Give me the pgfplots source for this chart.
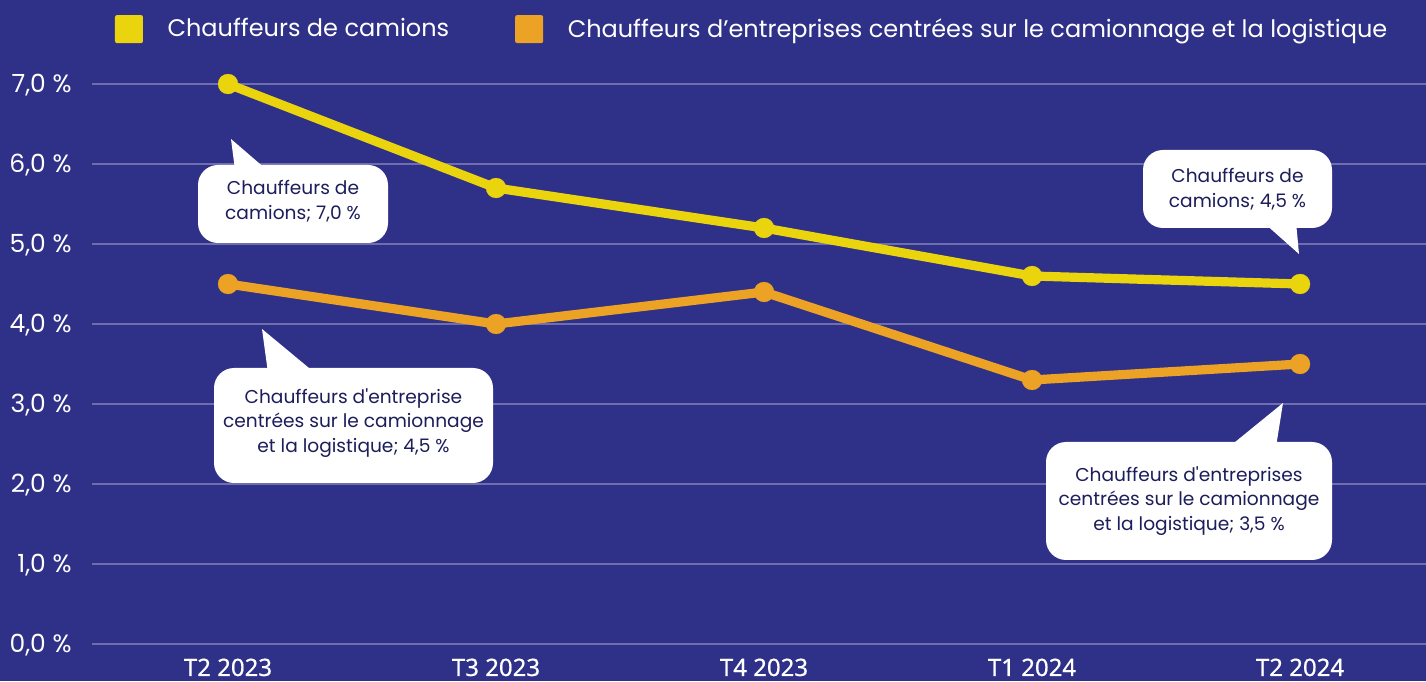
\documentclass[border=0pt]{standalone}
\usepackage{fontspec}
\setmainfont{Poppins}
\newfontfamily\callfont{Poppins}[Ligatures=TeXOff]
\newfontfamily\xfont{Noto Sans}[FakeBold=0.6]
\usepackage{pgfplots}
\pgfplotsset{compat=1.18}
\definecolor{bg}{RGB}{47,48,135}
\definecolor{ylw}{RGB}{234,212,14}
\definecolor{org}{RGB}{236,162,36}
\definecolor{navy}{RGB}{28,29,90}
\newcommand\zl{0,0 \%}
\begin{document}
\begin{tikzpicture}
\fill[bg] (-46pt,-18.5pt) rectangle (667pt,322pt);
\begin{axis}[
  scale only axis, width=667pt, height=280pt,
  xmin=-0.5075, xmax=4.47, ymin=0, ymax=7,
  clip=false,
  axis line style={draw=none},
  major tick length=0pt,
  xtick={0,...,4},
  xticklabels={T2 2023,T3 2023,T4 2023,T1 2024,T2 2024},
  xticklabel style={font=\fontsize{12}{13}\selectfont\xfont, text=white, anchor=base, inner sep=0pt, yshift=-16pt},
  ytick={1,...,7},
  yticklabels={{1,0 \%},{2,0 \%},{3,0 \%},{4,0 \%},{5,0 \%},{6,0 \%},{7,0 \%}},
  extra y ticks={0},
  extra y tick labels={\zl},
  extra y tick style={grid style={white, opacity=0.6, line width=1pt}},
  yticklabel style={font=\fontsize{12.5}{13}\selectfont, text=white, anchor=base east, inner sep=0pt, xshift=-10pt, yshift=-4.3pt},
  ymajorgrids,
  major grid style={white, opacity=0.3, line width=1pt},
  legend columns=2,
  legend style={at={(0.01724,1.098)}, anchor=west, draw=none, fill=none, inner sep=0pt, outer sep=0pt,
    text=white, font=\fontsize{12}{14}\selectfont,
    /tikz/every even column/.append style={column sep=33pt}, nodes={inner sep=0pt}},
  legend cell align=left,
  legend image code/.code={\fill[#1, draw=none, rounded corners=1pt] (0pt,-7pt) rectangle (14pt,7pt); \path (24pt,0pt);},
]
\addplot[color=ylw, line width=4.6pt, mark=*, mark size=5pt, mark options={line width=0.1pt}]
  coordinates {(0,7.0)(1,5.7)(2,5.2)(3,4.6)(4,4.5)};
\addlegendentry{Chauffeurs de camions}
\addplot[color=org, line width=4.6pt, mark=*, mark size=5pt, mark options={line width=0.1pt}]
  coordinates {(0,4.5)(1,4.0)(2,4.4)(3,3.3)(4,3.5)};
\addlegendentry{Chauffeurs d’entreprises centrées sur le camionnage et la logistique}
\end{axis}
\begin{scope}[shift={(-46pt,322pt)}, x=0.5pt, y=-0.5pt]
  \tikzset{cf/.style={font=\fontsize{9.3}{12.25}\selectfont\callfont, text=navy, align=center, inner sep=0pt}}
  % callout 1
  \fill[white] (231,139) -- (235,170) -- (267,170) -- cycle;
  \fill[white, rounded corners=10pt] (198,165) rectangle (388,243);
  \node[cf] at (293,201) {Chauffeurs de\\camions; 7,0 \%};
  % callout 2
  \fill[white] (262,329) -- (268,373) -- (315,373) -- cycle;
  \fill[white, rounded corners=10pt] (214,368) rectangle (493,483);
  \node[cf] at (353.5,423) {Chauffeurs d'entreprise\\centrées sur le camionnage\\et la logistique; 4,5 \%};
  % callout 3
  \fill[white] (1283,403) -- (1229,447) -- (1276,447) -- cycle;
  \fill[white, rounded corners=10pt] (1046,442) rectangle (1332,560);
  \node[cf] at (1189,501) {Chauffeurs d'entreprises\\centrées sur le camionnage\\et la logistique; 3,5 \%};
  % callout 4
  \fill[white] (1299,254) -- (1263,222) -- (1296,222) -- cycle;
  \fill[white, rounded corners=10pt] (1143,150) rectangle (1332,228);
  \node[cf] at (1237.5,189) {Chauffeurs de\\camions; 4,5 \%};
\end{scope}
\pgfresetboundingbox
\useasboundingbox (-46pt,-18.5pt) rectangle (667pt,322pt);
\end{tikzpicture}
\end{document}
